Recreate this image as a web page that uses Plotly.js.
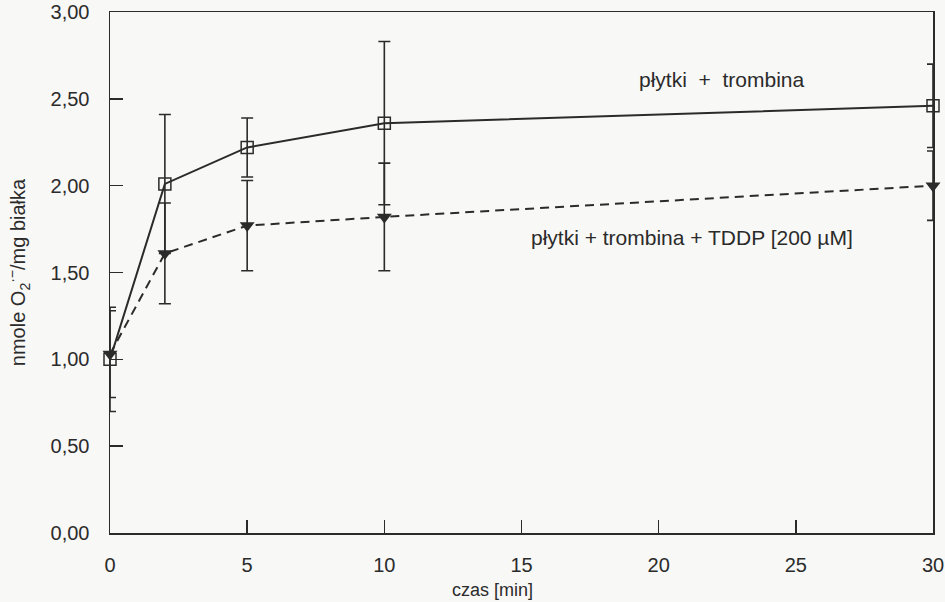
<!DOCTYPE html>
<html>
<head>
<meta charset="utf-8">
<script src="https://cdn.plot.ly/plotly-3.0.1.min.js"></script>
<style>html,body{margin:0;padding:0;background:#f8f8f6;}</style>
</head>
<body>
<div id="chart" style="width:945px;height:602px;"></div>
<script>
// Time points [min]
const czas = [0, 2, 5, 10, 30];
// płytki + trombina
const trombina = [1.00, 2.01, 2.22, 2.36, 2.46];
const trombinaErr = [0.30, 0.40, 0.17, 0.47, 0.24];
// płytki + trombina + TDDP [200 µM]
const tddp = [1.03, 1.61, 1.77, 1.82, 2.00];
const tddpErr = [0.25, 0.29, 0.26, 0.31, 0.20];

const xTicks = [0, 5, 10, 15, 20, 25, 30];
const yTicks = [0, 0.5, 1.0, 1.5, 2.0, 2.5, 3.0];

const ink = '#2b2b2b';
const fontFam = '"Liberation Sans", Arial, sans-serif';

const traces = [
  {
    x: czas, y: trombina, type: 'scatter', mode: 'lines+markers',
    line: {color: ink, width: 2},
    marker: {symbol: 'square-open', size: 12, color: ink, line: {width: 1.5, color: ink}},
    error_y: {type: 'data', array: trombinaErr, visible: true, color: ink, thickness: 1.6, width: 6},
    cliponaxis: false
  },
  {
    x: czas, y: tddp, type: 'scatter', mode: 'lines+markers',
    line: {color: ink, width: 2, dash: '9px,6px'},
    marker: {symbol: 'triangle-down', size: 13, color: ink},
    error_y: {type: 'data', array: tddpErr, visible: true, color: ink, thickness: 1.6, width: 6},
    cliponaxis: false
  }
];

const layout = {
  width: 945, height: 602,
  paper_bgcolor: '#f8f8f6', plot_bgcolor: '#f8f8f6',
  margin: {l: 110, r: 12, t: 12, b: 69},
  showlegend: false,
  separators: ', ',
  font: {family: fontFam, size: 20, color: ink},
  xaxis: {
    range: [0, 30], tickvals: xTicks, ticks: 'inside', ticklen: 13, tickwidth: 1.5, tickcolor: ink,
    showline: true, linecolor: ink, linewidth: 1.5, mirror: true, showgrid: false, zeroline: false,
    ticklabelstandoff: 13, tickfont: {size: 20, color: ink}
  },
  yaxis: {
    range: [0, 3], tickvals: yTicks, tickformat: '.2f', ticks: 'inside', ticklen: 13, tickwidth: 1.5, tickcolor: ink,
    showline: true, linecolor: ink, linewidth: 1.5, mirror: true, showgrid: false, zeroline: false,
    ticklabelstandoff: 15, tickfont: {size: 20, color: ink},
    title: {text: 'nmole O<sub>2</sub><sup>·−</sup>/mg białka', font: {size: 20, color: ink}, standoff: 19}
  },
  annotations: [
    {xref: 'paper', yref: 'paper', x: 0.465, y: -0.109, yanchor: 'middle', text: 'czas [min]', showarrow: false, font: {size: 18, color: ink}},
    {xref: 'x', yref: 'y', x: 22.3, y: 2.61, text: 'płytki  +  trombina', showarrow: false, font: {size: 21, color: ink}},
    {xref: 'x', yref: 'y', x: 21.2, y: 1.70, text: 'płytki + trombina + TDDP [200 µM]', showarrow: false, font: {size: 21, color: ink}}
  ]
};

Plotly.newPlot('chart', traces, layout, {displayModeBar: false, staticPlot: true});
</script>
</body>
</html>
